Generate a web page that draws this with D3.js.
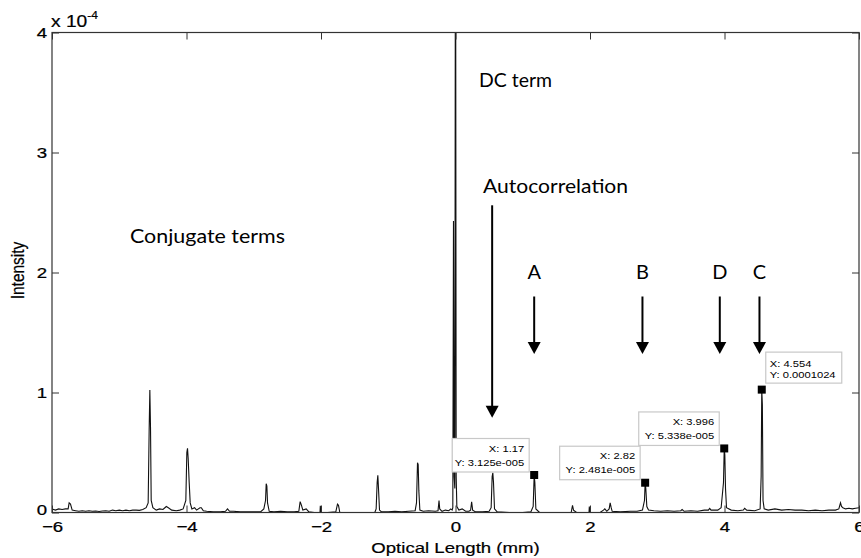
<!DOCTYPE html>
<html>
<head>
<meta charset="utf-8">
<script src="https://cdn.jsdelivr.net/npm/d3@7"></script>
<style>
  html, body { margin: 0; padding: 0; background: #fff; }
  svg { display: block; }
</style>
</head>
<body>
<svg id="chart" width="861" height="558"></svg>
<script>
// ---------------- DATA ----------------
// optical length in mm
const opticalLength = [
  -6.00, -5.95, -5.90, -5.85, -5.80, -5.76, -5.745, -5.725, -5.70, -5.65, -5.60, -5.55, -5.50, -5.45, -5.40,
  -5.35, -5.30, -5.25, -5.20, -5.15, -5.10, -5.05, -5.00, -4.95, -4.90, -4.85, -4.80, -4.75, -4.70, -4.65,
  -4.60, -4.57, -4.555, -4.545, -4.535, -4.525, -4.50, -4.45, -4.40, -4.35, -4.30, -4.27, -4.22, -4.15, -4.10,
  -4.05, -4.01, -3.995, -3.985, -3.975, -3.96, -3.945, -3.92, -3.88, -3.85, -3.80, -3.78, -3.75, -3.70, -3.60,
  -3.50, -3.42, -3.39, -3.36, -3.30, -3.20, -3.10, -3.00, -2.90, -2.85, -2.825, -2.815, -2.805, -2.795, -2.77,
  -2.70, -2.60, -2.50, -2.40, -2.33, -2.31, -2.29, -2.27, -2.22, -2.18, -2.10, -2.015, -2.01, -2.005, -1.90,
  -1.78, -1.755, -1.74, -1.72, -1.60, -1.40, -1.20, -1.18, -1.165, -1.155, -1.145, -1.13, -1.10, -1.00, -0.90,
  -0.80, -0.70, -0.60, -0.58, -0.565, -0.555, -0.545, -0.53, -0.48, -0.40, -0.30, -0.26, -0.245, -0.235, -0.20,
  -0.15, -0.10, -0.07, -0.05, -0.04, -0.03, -0.02, -0.01, 0.00, 0.01, 0.02, 0.05, 0.10, 0.15, 0.20,
  0.225, 0.24, 0.255, 0.30, 0.40, 0.50, 0.53, 0.545, 0.555, 0.565, 0.58, 0.62, 0.80, 1.00, 1.12,
  1.155, 1.17, 1.18, 1.195, 1.25, 1.50, 1.72, 1.74, 1.755, 1.80, 1.985, 1.99, 1.995, 2.15, 2.20,
  2.22, 2.25, 2.285, 2.30, 2.315, 2.33, 2.45, 2.60, 2.70, 2.78, 2.81, 2.82, 2.83, 2.845, 2.87,
  2.95, 3.05, 3.15, 3.25, 3.35, 3.37, 3.40, 3.50, 3.60, 3.70, 3.76, 3.78, 3.80, 3.90, 3.95,
  3.985, 3.996, 4.005, 4.015, 4.03, 4.10, 4.20, 4.28, 4.30, 4.33, 4.45, 4.53, 4.545, 4.554, 4.563,
  4.573, 4.59, 4.65, 4.75, 4.85, 4.95, 5.05, 5.15, 5.25, 5.35, 5.45, 5.55, 5.65, 5.70, 5.725,
  5.74, 5.76, 5.80, 5.85, 5.90, 5.95, 6.00
];
// intensity, in units of 1e-4
const intensity = [
  0.03, 0.02, 0.03, 0.025, 0.03, 0.03, 0.08, 0.07, 0.02, 0.015, 0.01, 0.015, 0.01, 0.015, 0.01,
  0.012, 0.008, 0.012, 0.015, 0.01, 0.02, 0.015, 0.02, 0.015, 0.02, 0.015, 0.02, 0.02, 0.018, 0.025,
  0.04, 0.08, 0.70, 1.02, 0.70, 0.10, 0.04, 0.02, 0.03, 0.025, 0.05, 0.04, 0.02, 0.015, 0.02,
  0.03, 0.10, 0.50, 0.535, 0.45, 0.25, 0.08, 0.03, 0.04, 0.02, 0.04, 0.04, 0.015, 0.01, 0.005,
  0.005, 0.01, 0.03, 0.01, 0.01, 0.005, 0.005, 0.005, 0.005, 0.03, 0.10, 0.24, 0.22, 0.08, 0.01,
  0.005, 0.01, 0.005, 0.005, 0.01, 0.09, 0.06, 0.02, 0.03, 0.005, 0.0, 0.0, 0.055, 0.0, 0.0,
  0.005, 0.07, 0.06, 0.0, 0.0, 0.0, 0.0, 0.03, 0.25, 0.31, 0.20, 0.02, 0.005, 0.005, 0.01,
  0.005, 0.01, 0.015, 0.08, 0.415, 0.40, 0.18, 0.02, 0.01, 0.015, 0.01, 0.015, 0.10, 0.03, 0.01,
  0.02, 0.015, 0.03, 0.02, 0.04, 2.43, 0.30, 0.20, 6.00, 0.30, 0.05, 0.02, 0.03, 0.01, 0.01,
  0.02, 0.09, 0.02, 0.005, 0.005, 0.01, 0.04, 0.30, 0.33, 0.25, 0.03, 0.005, 0.0, 0.0, 0.005,
  0.05, 0.3125, 0.25, 0.03, 0.0, 0.0, 0.0, 0.06, 0.02, 0.0, 0.0, 0.05, 0.0, 0.0, 0.02,
  0.03, 0.01, 0.03, 0.08, 0.04, 0.01, 0.005, 0.01, 0.01, 0.02, 0.10, 0.2481, 0.20, 0.05, 0.02,
  0.015, 0.01, 0.015, 0.01, 0.015, 0.025, 0.01, 0.015, 0.01, 0.02, 0.02, 0.035, 0.02, 0.02, 0.04,
  0.25, 0.5338, 0.48, 0.20, 0.04, 0.02, 0.015, 0.02, 0.035, 0.02, 0.015, 0.03, 0.30, 1.024, 0.90,
  0.10, 0.03, 0.02, 0.03, 0.02, 0.025, 0.02, 0.02, 0.015, 0.02, 0.015, 0.02, 0.02, 0.03, 0.08,
  0.05, 0.04, 0.03, 0.035, 0.03, 0.035, 0.04
];

const xTicks = [-6, -4, -2, 0, 2, 4, 6];
const yTicks = [0, 1, 2, 3, 4];
const xLabel = "Optical Length (mm)";
const yLabel = "Intensity";

// data tips (x, y in 1e-4 units, label lines)
const tipX = [1.17, 2.82, 3.996, 4.554];
const tipY = [0.3125, 0.2481, 0.5338, 1.024];
const tipText = [
  ["X: 1.17", "Y: 3.125e-005"],
  ["X: 2.82", "Y: 2.481e-005"],
  ["X: 3.996", "Y: 5.338e-005"],
  ["X: 4.554", "Y: 0.0001024"]
];

// annotation labels and arrows (data coordinates)
const annoText = ["DC term", "Autocorrelation", "Conjugate terms", "A", "B", "D", "C"];
const annoX =    [0.35, 0.41, -4.84, 1.17, 2.78, 3.93, 4.52];
const annoY =    [3.55, 2.66, 2.25, 2.0, 2.0, 2.0, 2.0];
const arrowX =   [0.545, 1.17, 2.78, 3.93, 4.52];
const arrowY0 =  [2.56, 1.80, 1.80, 1.80, 1.80];
const arrowY1 =  [0.79, 1.32, 1.32, 1.32, 1.32];

// ---------------- LAYOUT ----------------
const L = 52, R = 859, T = 32.5, B = 512.5;
const SX = 1.2;           // horizontal stretch of the source picture's text
const annoWidth = { "DC term": 73, "Autocorrelation": 145, "Conjugate terms": 155 };
const svg = d3.select("#chart");

const x = d3.scaleLinear().domain([-6, 6]).range([L, R]);
const y = d3.scaleLinear().domain([0, 4]).range([B, T]);

svg.append("defs").append("clipPath").attr("id", "clip")
  .append("rect").attr("x", L).attr("y", T).attr("width", R - L).attr("height", B - T);

// data line
const pts = opticalLength.map((d, i) => [d, intensity[i]]);
svg.append("path")
  .datum(pts)
  .attr("clip-path", "url(#clip)")
  .attr("fill", "none")
  .attr("stroke", "#111")
  .attr("stroke-width", 1.1)
  .attr("d", d3.line().x(d => x(d[0])).y(d => y(d[1])));

// axes
const axisFont = "'Liberation Sans', Arial, sans-serif";
function styleAxis(g) {
  g.select(".domain").remove();
  g.selectAll(".tick line").attr("stroke", "#333").attr("stroke-width", 1);
}
const gB = svg.append("g").attr("transform", `translate(0,${B})`)
  .call(d3.axisBottom(x).tickValues(xTicks).tickSizeInner(-7).tickSizeOuter(0).tickPadding(8.5).tickFormat(d3.format("d")));
styleAxis(gB);
gB.selectAll(".tick text").attr("font-family", axisFont).attr("font-size", 15.5).attr("fill", "#000")
  .attr("stroke", "#000").attr("stroke-width", 0.25)
  .attr("transform", `scale(${SX},1)`);

const gT = svg.append("g").attr("transform", `translate(0,${T})`)
  .call(d3.axisTop(x).tickValues(xTicks).tickSizeInner(-7).tickSizeOuter(0).tickFormat(""));
styleAxis(gT);

const gL = svg.append("g").attr("transform", `translate(${L},0)`)
  .call(d3.axisLeft(y).tickValues(yTicks).tickSizeInner(-7).tickSizeOuter(0).tickPadding(5).tickFormat(d3.format("d")));
styleAxis(gL);
gL.selectAll(".tick text").attr("font-family", axisFont).attr("font-size", 15.5).attr("fill", "#000")
  .attr("stroke", "#000").attr("stroke-width", 0.25)
  .attr("x", -5 / SX).attr("transform", `scale(${SX},1)`);
// the "0" label sits a little above its tick, as in the source
gL.selectAll(".tick").filter(d => d === 0).select("text").attr("dy", "0.15em");

const gR = svg.append("g").attr("transform", `translate(${R},0)`)
  .call(d3.axisRight(y).tickValues(yTicks).tickSizeInner(-7).tickSizeOuter(0).tickFormat(""));
styleAxis(gR);

// box
svg.append("rect").attr("x", L).attr("y", T).attr("width", R - L).attr("height", B - T)
  .attr("fill", "none").attr("stroke", "#333").attr("stroke-width", 1.2);

// exponent label
const ex = svg.append("text").attr("font-family", axisFont).attr("fill", "#000")
  .attr("stroke", "#000").attr("stroke-width", 0.2)
  .attr("transform", `translate(51,26.5) scale(${SX},1)`);
ex.append("tspan").attr("font-size", 16).text("x 10");
ex.append("tspan").attr("font-size", 10).attr("dy", -8).text("-4");

// axis labels
svg.append("text").attr("font-family", axisFont).attr("font-size", 15.5).attr("fill", "#000")
  .attr("stroke", "#000").attr("stroke-width", 0.2)
  .attr("text-anchor", "middle")
  .attr("transform", `translate(${(L + R) / 2},553) scale(${SX},1)`)
  .text(xLabel);
svg.append("text").attr("font-family", axisFont).attr("font-size", 15.5).attr("fill", "#000")
  .attr("stroke", "#000").attr("stroke-width", 0.2)
  .attr("text-anchor", "middle")
  .attr("transform", `translate(24,${(T + B) / 2 - 2}) scale(${SX},1) rotate(-90)`)
  .text(yLabel);

// annotations
const annoFont = "Lato, 'Open Sans', sans-serif";
annoText.forEach((t, i) => {
  const single = t.length === 1;
  const el = svg.append("text")
    .attr("font-family", annoFont).attr("font-size", 18.5).attr("fill", "#000")
    .attr("text-anchor", single ? "middle" : "start")
    .attr("x", x(annoX[i]))
    .attr("y", single ? y(annoY[i]) + 6.5 : y(annoY[i]))
    .text(t);
  if (annoWidth[t]) el.attr("textLength", annoWidth[t]).attr("lengthAdjust", "spacingAndGlyphs");
  else el.attr("transform", `translate(${x(annoX[i])},0) scale(${SX * 0.9},1) translate(${-x(annoX[i])},0)`);
});
arrowX.forEach((ax, i) => {
  const px = x(ax), y0 = y(arrowY0[i]), y1 = y(arrowY1[i]);
  svg.append("line").attr("x1", px).attr("x2", px).attr("y1", y0).attr("y2", y1 - 10)
    .attr("stroke", "#000").attr("stroke-width", 2);
  svg.append("path").attr("fill", "#000")
    .attr("d", `M${px - 6.5},${y1 - 12} L${px + 6.5},${y1 - 12} L${px},${y1} Z`);
});

// data tips
const tipFont = "'Liberation Sans', Arial, sans-serif";
tipX.forEach((tx, i) => {
  const mx = x(tx), my = y(tipY[i]);
  const right = i === 3;                 // last tip sits to the upper right
  const w = right ? 76 : (i === 0 ? 77 : 80.5), h = right ? 31 : 33.5;
  const bx = right ? mx + 4 : mx - 5 - w;
  const by = right ? my - 6.5 - h : my - 3 - h;
  svg.append("rect").attr("x", bx).attr("y", by).attr("width", w).attr("height", h)
    .attr("fill", "#fff").attr("stroke", "#c8c8c8").attr("stroke-width", 1.2);
  tipText[i].forEach((line, j) => {
    const lh = right ? 11 : 14;
    const ty = by + (right ? 14.5 : 13) + j * lh;
    const tx2 = right ? bx + 4 : bx + w - 5;
    svg.append("text").attr("font-family", tipFont).attr("font-size", 9.6).attr("fill", "#000")
      .attr("text-anchor", right ? "start" : "end")
      .attr("transform", `translate(${tx2},${ty}) scale(${SX * 0.97},1)`)
      .text(line);
  });
  svg.append("rect").attr("x", mx - 4).attr("y", my - 4).attr("width", 8).attr("height", 8).attr("fill", "#000");
});
</script>
</body>
</html>
